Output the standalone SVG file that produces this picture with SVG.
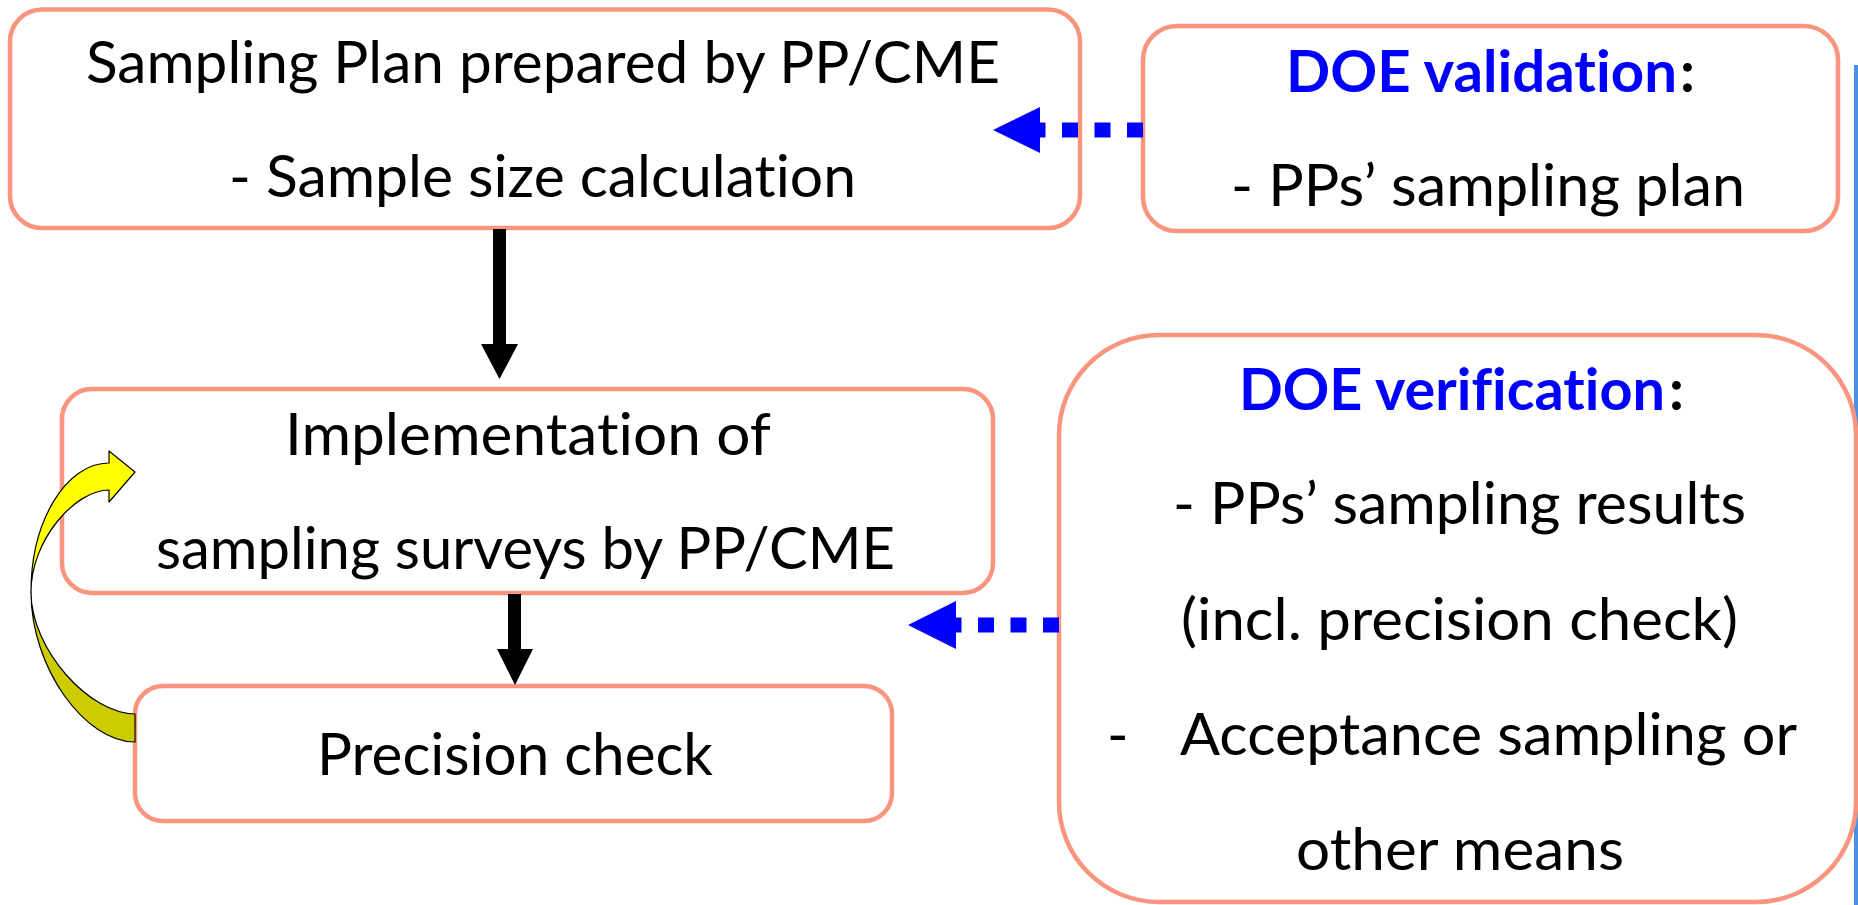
<svg xmlns="http://www.w3.org/2000/svg" width="1858" height="905" viewBox="0 0 1858 905">
  <style>
    .box { fill: #ffffff; stroke: #F9957F; stroke-width: 4.5; }
    .t { font-family: Lato, "Liberation Sans", sans-serif; font-size: 58px; fill: #000000;
         font-variant-ligatures: none; font-feature-settings: "liga" 0, "clig" 0, "dlig" 0; }
    .hd { font-weight: bold; fill: #0000FF; }
    .colon { font-weight: bold; }
    .dots { fill: none; stroke: #0000FF; stroke-width: 15; stroke-dasharray: 16 16.5; }
    .bhead { fill: #0000FF; }
    .flow { fill: #000000; }
    .loop-top { fill: #FFFF00; stroke: #000000; stroke-width: 1.2; stroke-linejoin: round; }
    .loop-back { fill: #CCCC00; stroke: #000000; stroke-width: 1.2; stroke-linejoin: round; }
  </style>

  <rect width="1858" height="905" fill="#ffffff"/>

  <!-- thin vertical rule at the right margin -->
  <rect x="1854" y="65" width="4" height="840" fill="#4A90E2"/>

  <g id="node-sampling-plan">
    <rect class="box" x="10" y="9.5" width="1070" height="218.5" rx="32"/>
    <text class="t" x="86" y="83" textLength="914" lengthAdjust="spacingAndGlyphs">Sampling Plan prepared by PP/CME</text>
    <text class="t" x="229" y="197" textLength="627" lengthAdjust="spacingAndGlyphs">- Sample size calculation</text>
  </g>

  <g id="node-doe-validation">
    <rect class="box" x="1143" y="26" width="695" height="205" rx="34"/>
    <text class="t hd" x="1286" y="92" textLength="391" lengthAdjust="spacingAndGlyphs">DOE validation</text>
    <text class="t colon" x="1680" y="92">:</text>
    <text class="t" x="1231" y="206" textLength="514" lengthAdjust="spacingAndGlyphs">- PPs’ sampling plan</text>
  </g>

  <g id="node-implementation">
    <rect class="box" x="62" y="389" width="931" height="204" rx="30"/>
    <text class="t" x="285" y="455" textLength="486" lengthAdjust="spacingAndGlyphs">Implementation of</text>
    <text class="t" x="156" y="569" textLength="739" lengthAdjust="spacingAndGlyphs">sampling surveys by PP/CME</text>
  </g>

  <g id="node-precision-check">
    <rect class="box" x="135" y="686" width="757" height="135" rx="28"/>
    <text class="t" x="317" y="775" textLength="396" lengthAdjust="spacingAndGlyphs">Precision check</text>
  </g>

  <g id="node-doe-verification">
    <rect class="box" x="1059" y="335" width="797" height="567" rx="100"/>
    <text class="t hd" x="1239" y="410" textLength="426" lengthAdjust="spacingAndGlyphs">DOE verification</text>
    <text class="t colon" x="1669" y="410">:</text>
    <text class="t" x="1173" y="524" textLength="573" lengthAdjust="spacingAndGlyphs">- PPs’ sampling results</text>
    <text class="t" x="1181" y="640" textLength="557" lengthAdjust="spacingAndGlyphs">(incl. precision check)</text>
    <text class="t" x="1107" y="755">-</text>
    <text class="t" x="1180" y="755" textLength="617" lengthAdjust="spacingAndGlyphs">Acceptance sampling or</text>
    <text class="t" x="1296" y="870" textLength="328" lengthAdjust="spacingAndGlyphs">other means</text>
  </g>

  <g id="connectors">
    <!-- plan -> implementation -->
    <polygon class="flow" points="493,229 506,229 506,344 518,344 499.5,379 481,344 493,344"/>
    <!-- implementation -> precision check -->
    <polygon class="flow" points="508,594 521,594 521,649 533,649 515,685 497,649 508,649"/>

    <!-- validation feedback to the sampling plan -->
    <line class="dots" x1="1143" y1="130" x2="1040" y2="130"/>
    <polygon class="bhead" points="993,130 1040,107 1040,153"/>

    <!-- verification feedback to the implementation -->
    <line class="dots" x1="1059" y1="625" x2="956" y2="625"/>
    <polygon class="bhead" points="908,625 956,601 956,649"/>

    <!-- loop from precision check back to implementation -->
    <path class="loop-back" d="M31,592 C31,668 85,742 135,742 L135,714 C90,714 31,650 31,592 Z"/>
    <path class="loop-top" d="M109,463 L109,451 L135,472 L109,502 L109,490 C75,490 31,540 31,592 C31,521 66,463 109,463 Z"/>
  </g>
</svg>
